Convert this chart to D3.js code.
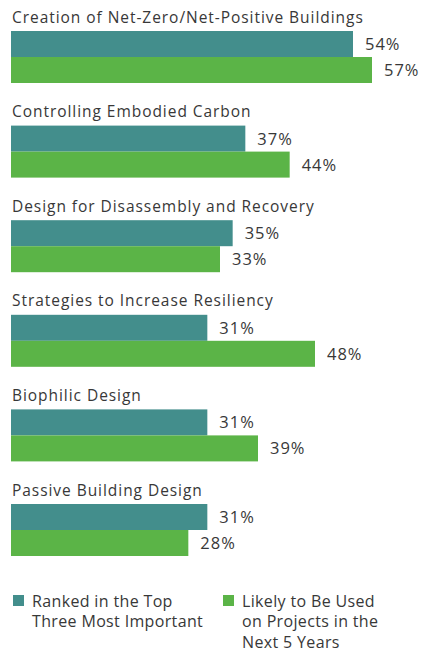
<!DOCTYPE html>
<html>
<head>
<meta charset="utf-8">
<script src="https://cdn.jsdelivr.net/npm/d3@7"></script>
<style>
html,body{margin:0;padding:0;background:#fff;}
svg{display:block;}
text{font-family:"Open Sans", Roboto, sans-serif;fill:#383838;font-weight:400;}
</style>
</head>
<body>
<svg id="chart" width="428" height="649"></svg>
<script>
const categories = [
  "Creation of Net-Zero/Net-Positive Buildings",
  "Controlling Embodied Carbon",
  "Design for Disassembly and Recovery",
  "Strategies to Increase Resiliency",
  "Biophilic Design",
  "Passive Building Design"
];
const seriesNames = ["Ranked in the Top Three Most Important", "Likely to Be Used on Projects in the Next 5 Years"];
const rankedTop3 = [54, 37, 35, 31, 31, 31];
const likelyNext5 = [57, 44, 33, 48, 39, 28];
const legendLines = [
  ["Ranked in the Top", "Three Most Important"],
  ["Likely to Be Used", "on Projects in the", "Next 5 Years"]
];
const colors = ["#438e8c", "#5bb447"];

const svg = d3.select("#chart");
const left = 11;
const barH = 26;

const x = d3.scaleLinear().domain([0, 60]).range([0, 380]);
const y = d3.scalePoint().domain(categories).range([31, 504]);
const sub = d3.scaleBand().domain([0, 1]).range([0, barH * 2]);

const data = categories.map((c, i) => ({cat: c, vals: [rankedTop3[i], likelyNext5[i]]}));

const g = svg.selectAll("g.grp").data(data).join("g")
  .attr("class", "grp")
  .attr("transform", d => `translate(0,${y(d.cat)})`);

g.append("text")
  .attr("x", left + 1)
  .attr("y", -8.5)
  .attr("font-size", 15.5)
  .attr("letter-spacing", 0.95)
  .text(d => d.cat);

g.selectAll("rect").data(d => d.vals).join("rect")
  .attr("x", left)
  .attr("y", (v, j) => sub(j))
  .attr("width", v => x(v))
  .attr("height", sub.bandwidth())
  .attr("fill", (v, j) => colors[j]);

g.selectAll("text.val").data(d => d.vals).join("text")
  .attr("class", "val")
  .attr("x", v => left + x(v) + 12)
  .attr("y", (v, j) => sub(j) + sub.bandwidth() / 2 + 6)
  .attr("font-size", 16.5)
  .attr("letter-spacing", 1.0)
  .text(v => v + "%");

// legend
const lx = d3.scaleOrdinal().domain([0, 1]).range([13, 223]);
const lg = svg.selectAll("g.leg").data(seriesNames).join("g")
  .attr("class", "leg")
  .attr("transform", (d, i) => `translate(${lx(i)},595)`);
lg.append("rect").attr("width", 11).attr("height", 11).attr("fill", (d, i) => colors[i]);
lg.append("text")
  .attr("x", 19)
  .attr("y", 11.5)
  .attr("font-size", 16)
  .attr("letter-spacing", 0.35)
  .selectAll("tspan").data((d, i) => legendLines[i]).join("tspan")
  .attr("x", 19)
  .attr("dy", (t, k) => k === 0 ? 0 : 20.5)
  .text(t => t);
</script>
</body>
</html>
